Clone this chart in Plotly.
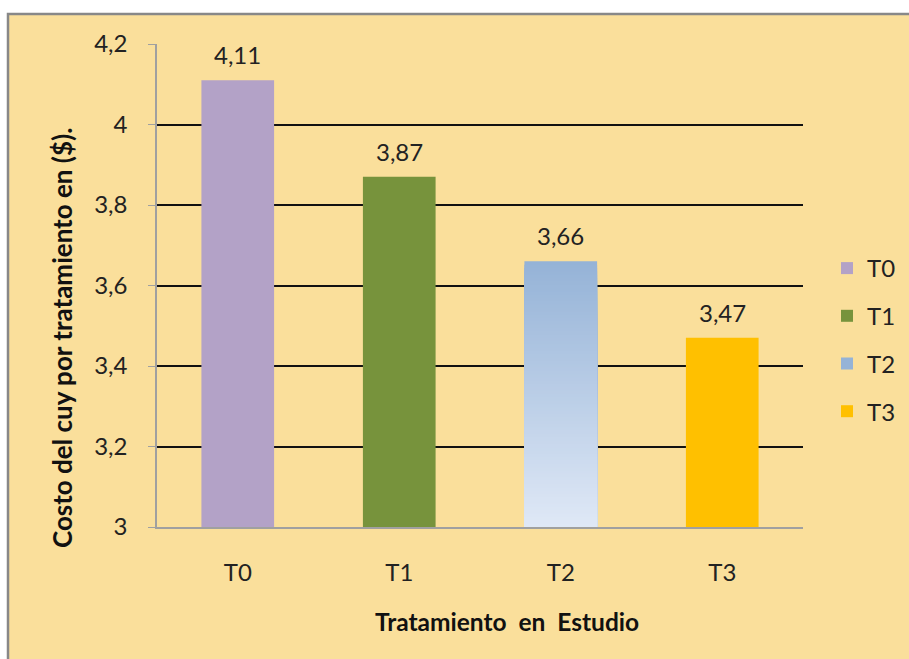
import numpy as np
import plotly.graph_objects as go

# Chart data
categories = ["T0", "T1", "T2", "T3"]
costs = [4.11, 3.87, 3.66, 3.47]
y_ticks = [3, 3.2, 3.4, 3.6, 3.8, 4, 4.2]

# Styling
solid_colors = {"T0": "#B3A2C7", "T1": "#77933C", "T3": "#FFC000"}
grad_bottom = (223, 232, 246)
grad_top = (149, 179, 215)
FONT = "Lato"
FS = 24
W, H = 909, 659
L, R, T, B = 157, 106, 44, 132
PW, PH = W - L - R, H - T - B


def px_x(px):
    return (px - L) / PW


def px_y(py):
    return (H - B - py) / PH


def fmt(v):
    return f"{v:.2f}".replace(".", ",")


fig = go.Figure()

for cat, val in zip(categories, costs):
    if cat in solid_colors:
        fig.add_trace(go.Bar(
            x=[cat], y=[val], name=cat, width=0.45,
            marker=dict(color=solid_colors[cat], line=dict(width=0)),
        ))
    else:
        # vertical gradient: nested slices from the baseline, tallest (darkest) first
        n = 80
        tops = np.linspace(val, y_ticks[0], n + 1)[:-1]
        t = np.linspace(1, 0, n)
        cols = [
            "rgb(%d,%d,%d)" % tuple(
                round(grad_bottom[i] + (grad_top[i] - grad_bottom[i]) * f) for i in range(3))
            for f in t
        ]
        fig.add_trace(go.Bar(
            x=[cat] * n, base=y_ticks[0], y=tops - y_ticks[0], name=cat, width=0.45,
            marker=dict(color=cols, line=dict(width=0)),
        ))

# value labels above the bars
for cat, val in zip(categories, costs):
    fig.add_annotation(
        x=cat, y=val, xref="x", yref="y", text=fmt(val), showarrow=False,
        xanchor="center", yanchor="bottom", yshift=9,
        font=dict(family=FONT, size=FS, color="#222222"),
    )

# soft shadow under each gridline
for v in y_ticks[1:]:
    for (a, b, alpha) in [(-1, -4, 0.13), (-4, -8, 0.06)]:
        fig.add_shape(
            type="rect", xref="x domain", yref="y", layer="below",
            ysizemode="pixel", yanchor=v, y0=a, y1=b, x0=0, x1=1,
            fillcolor=f"rgba(120,120,0,{alpha})", line=dict(width=0),
        )

# axis titles
fig.add_annotation(
    x=px_x(62), y=px_y(338), xref="paper", yref="paper",
    xanchor="center", yanchor="middle",
    text="<b>Costo del cuy por tratamiento en ($).</b>", textangle=-90, showarrow=False,
    font=dict(family=FONT, size=26, color="#111111"),
)
fig.add_annotation(
    x=px_x(507), y=px_y(621), xref="paper", yref="paper",
    xanchor="center", yanchor="middle",
    text="<b>Tratamiento&nbsp; en&nbsp; Estudio</b>", showarrow=False,
    font=dict(family=FONT, size=24.5, color="#111111"),
)

# chart frame
fig.add_shape(
    type="rect", xref="paper", yref="paper", layer="below",
    x0=px_x(8), x1=px_x(W + 20), y0=px_y(H + 20), y1=px_y(14),
    fillcolor="#FADF9B", line=dict(color="#888888", width=2.5),
)

fig.update_layout(
    width=W, height=H,
    margin=dict(l=L, r=R, t=T, b=B, autoexpand=False),
    paper_bgcolor="white",
    plot_bgcolor="#FFFF99",
    barmode="overlay",
    separators=",.",
    font=dict(family=FONT, size=FS, color="#222222"),
    showlegend=True,
    legend=dict(
        x=px_x(827), y=px_y(246), xanchor="left", yanchor="top",
        bgcolor="rgba(0,0,0,0)", font=dict(family=FONT, size=FS, color="#222222"),
        traceorder="grouped", tracegroupgap=13.5, itemwidth=30,
    ),
    xaxis=dict(
        type="category", categoryorder="array", categoryarray=categories,
        showgrid=False, showline=True, linecolor="#A0A0A0", linewidth=1.5,
        ticks="", ticklabelstandoff=23, tickfont=dict(family=FONT, size=FS, color="#222222"),
    ),
    yaxis=dict(
        range=[y_ticks[0], y_ticks[-1]], tickvals=y_ticks,
        showgrid=True, gridcolor="#111111", gridwidth=1.5,
        showline=True, linecolor="#A0A0A0", linewidth=1.5,
        ticks="outside", ticklen=7, tickcolor="#A0A0A0", ticklabelstandoff=16,
        zeroline=False, tickfont=dict(family=FONT, size=FS, color="#222222"),
    ),
)

for tr in fig.data:
    tr.legendgroup = tr.name

fig.write_html("out.html")
